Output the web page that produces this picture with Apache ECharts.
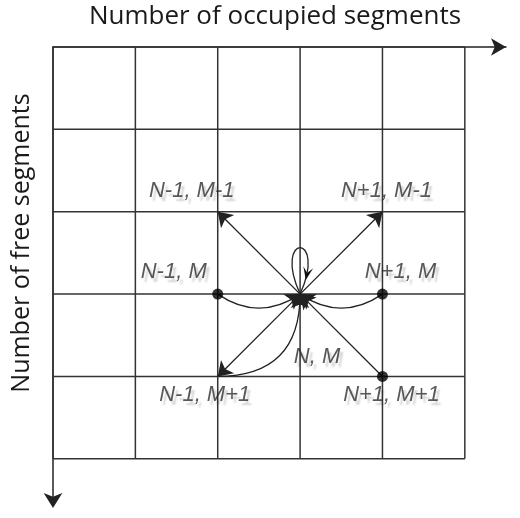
<!DOCTYPE html>
<html>
<head>
<meta charset="utf-8">
<script src="https://cdn.jsdelivr.net/npm/echarts@6/dist/echarts.min.js"></script>
<style>
  html, body { margin: 0; padding: 0; background: #fff; }
  #chart { width: 520px; height: 518px; }
</style>
</head>
<body>
<div id="chart"></div>
<script>
// grid cells (occupied N along x, free M downward along y)
const gridTicks = [0, 1, 2, 3, 4, 5];

// states of the chain
const stateNames = ['N-1, M-1', 'N+1, M-1', 'N-1, M', 'N+1, M', 'N, M', 'N-1, M+1', 'N+1, M+1'];
const stateN = [2, 4, 2, 4, 3, 2, 4];
const stateM = [2, 2, 3, 3, 3, 4, 4];

// states drawn with a black dot
const dotStates = ['N-1, M', 'N+1, M', 'N+1, M+1'];

// transitions [from, to]
const transitions = [
  ['N, M', 'N-1, M-1'],
  ['N, M', 'N+1, M-1'],
  ['N, M', 'N-1, M+1'],
  ['N+1, M+1', 'N, M'],
  ['N-1, M', 'N, M'],
  ['N+1, M', 'N, M'],
  ['N-1, M+1', 'N, M']
];
// self loop on the state
const loopStates = ['N, M'];

// ---- styles ----
const curv = [0, 0, 0, 0, -0.34, 0.34, -0.5];
const labelOffsets = {
  'N-1, M-1': [-26, -21],
  'N+1, M-1': [4, -21],
  'N-1, M': [-44, -22],
  'N+1, M': [18, -22],
  'N, M': [17, 63],
  'N-1, M+1': [-13, 18],
  'N+1, M+1': [9, 18]
};

function pos(name) {
  const i = stateNames.indexOf(name);
  return [stateN[i], stateM[i]];
}

const chart = echarts.init(document.getElementById('chart'));

function renderGrid(params, api) {
  const t = api.value(0);
  const a = api.coord([t, 0]), b = api.coord([t, 5]);
  const c = api.coord([0, t]), d = api.coord([5, t]);
  const style = { stroke: '#333', lineWidth: 1.5 };
  return {
    type: 'group',
    children: [
      { type: 'line', shape: { x1: a[0], y1: a[1], x2: b[0], y2: b[1] }, style: style },
      { type: 'line', shape: { x1: c[0], y1: c[1], x2: d[0], y2: d[1] }, style: style }
    ]
  };
}

function renderLoop(params, api) {
  const p = api.coord([api.value(0), api.value(1)]);
  const c1 = [p[0] - 28, p[1] - 62];
  const c2 = [p[0] + 28, p[1] - 62];
  const t = 0.87, u = 1 - t;
  const bx = u*u*u*p[0] + 3*u*u*t*c1[0] + 3*u*t*t*c2[0] + t*t*t*p[0];
  const by = u*u*u*p[1] + 3*u*u*t*c1[1] + 3*u*t*t*c2[1] + t*t*t*p[1];
  let dx = 3*u*u*(c1[0]-p[0]) + 6*u*t*(c2[0]-c1[0]) + 3*t*t*(p[0]-c2[0]);
  let dy = 3*u*u*(c1[1]-p[1]) + 6*u*t*(c2[1]-c1[1]) + 3*t*t*(p[1]-c2[1]);
  const len = Math.sqrt(dx*dx + dy*dy);
  dx /= len; dy /= len;
  const tip = [bx + dx*7, by + dy*7];
  const back = [bx - dx*6, by - dy*6];
  return {
    type: 'group',
    children: [
      {
        type: 'bezierCurve',
        shape: { x1: p[0], y1: p[1], x2: p[0], y2: p[1], cpx1: c1[0], cpy1: c1[1], cpx2: c2[0], cpy2: c2[1] },
        style: { stroke: '#222', lineWidth: 1.3, fill: null }
      },
      {
        type: 'polygon',
        shape: { points: [tip, [back[0] - dy*5, back[1] + dx*5], [bx, by], [back[0] + dy*5, back[1] - dx*5]] },
        style: { fill: '#111' }
      }
    ]
  };
}

const labelFont = {
  fontFamily: 'Liberation Sans',
  fontStyle: 'italic',
  fontSize: 22,
  color: '#2e2e2e',
  textShadowColor: 'rgba(0,0,0,0.22)',
  textShadowBlur: 2,
  textShadowOffsetX: 3,
  textShadowOffsetY: 4
};

chart.setOption({
  animation: false,
  grid: { left: 53, top: 47, width: 453, height: 453 },
  xAxis: {
    type: 'value', position: 'top', min: 0, max: 5.5,
    axisLine: { show: true, onZero: false, symbol: ['none', 'arrow'], symbolSize: [13, 15], lineStyle: { color: '#222', width: 1.5 } },
    axisTick: { show: false }, axisLabel: { show: false }, splitLine: { show: false }
  },
  yAxis: {
    type: 'value', inverse: true, min: 0, max: 5.5,
    axisLine: { show: true, onZero: false, symbol: ['arrow', 'none'], symbolSize: [14, 15], symbolOffset: [-8, 0], lineStyle: { color: '#222', width: 1.5 } },
    axisTick: { show: false }, axisLabel: { show: false }, splitLine: { show: false }
  },
  graphic: [
    {
      type: 'text', x: 275, y: 17,
      style: { text: 'Number of occupied segments', font: '26px "Open Sans"', fill: '#1a1a1a', align: 'center', verticalAlign: 'middle' }
    },
    {
      type: 'text', x: 22, y: 243, rotation: Math.PI / 2,
      style: { text: 'Number of free segments', font: '25px "Open Sans"', fill: '#1a1a1a', align: 'center', verticalAlign: 'middle' }
    }
  ],
  series: [
    {
      type: 'custom', renderItem: renderGrid, z: 1,
      data: gridTicks.map(t => [t, t])
    },
    {
      type: 'lines', coordinateSystem: 'cartesian2d', z: 3,
      symbol: ['none', 'arrow'], symbolSize: 14,
      lineStyle: { color: '#222', width: 1.3, opacity: 1 },
      data: transitions.map((tr, i) => ({ coords: [pos(tr[0]), pos(tr[1])], lineStyle: { curveness: curv[i] } }))
    },
    {
      type: 'custom', renderItem: renderLoop, z: 3,
      data: loopStates.map(pos)
    },
    {
      type: 'scatter', z: 4, symbolSize: 11, itemStyle: { color: '#000' },
      data: dotStates.map(pos)
    },
    {
      type: 'scatter', z: 5, symbolSize: 0,
      data: stateNames.map((n, i) => ({
        name: n, value: [stateN[i], stateM[i]],
        label: { show: true, position: 'inside', offset: labelOffsets[n], formatter: '{b}', ...labelFont }
      }))
    }
  ]
});
</script>
</body>
</html>
